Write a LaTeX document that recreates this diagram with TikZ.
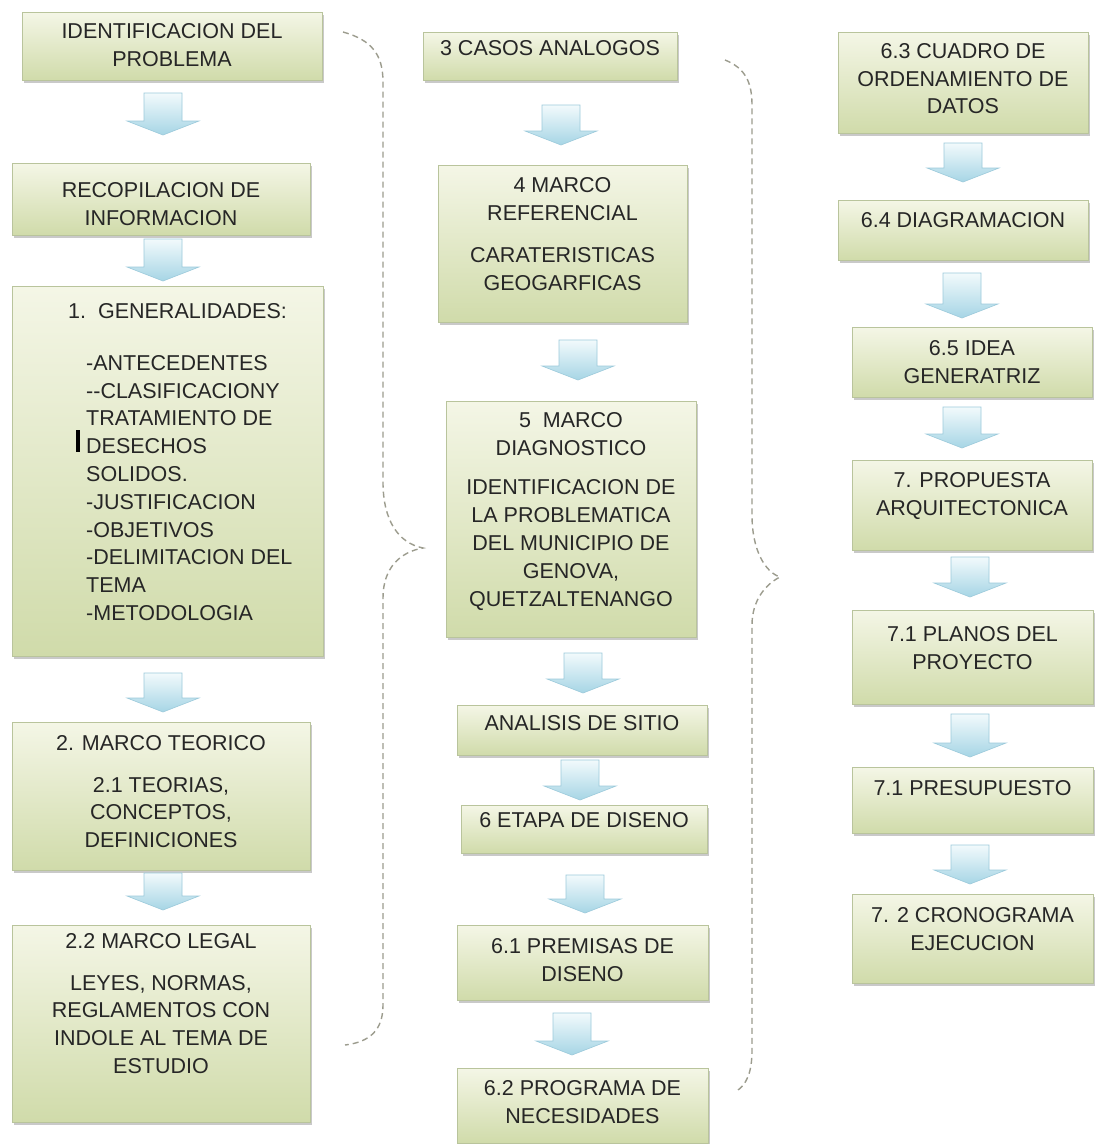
\documentclass[tikz,border=0pt]{standalone}
\usepackage{fontspec}
\setmainfont{Liberation Sans}
\usetikzlibrary{shadows,calc}
\definecolor{boxtop}{HTML}{F4F6E6}
\definecolor{boxbot}{HTML}{D0DBAA}
\definecolor{boxline}{HTML}{B9C49C}
\definecolor{arrtop}{HTML}{F2FAFC}
\definecolor{arrbot}{HTML}{A6D5E5}
\definecolor{arrline}{HTML}{9CCADB}
\definecolor{bracecol}{HTML}{9C9C8E}
\definecolor{txtcol}{HTML}{262626}
\tikzset{
  box/.style={draw=boxline, line width=0.7pt, top color=boxtop, bottom color=boxbot, inner sep=0pt,
    drop shadow={shadow xshift=1.2pt, shadow yshift=-2.2pt, opacity=0.35, fill=black!60}},
  txt/.style={inner sep=0pt, align=center, text=txtcol, font=\fontsize{21.5pt}{27.8pt}\selectfont},
  blockarrow/.style={draw=arrline, line width=0.6pt, top color=arrtop, bottom color=arrbot},
  bracket/.style={draw=bracecol, line width=1.4pt, dash pattern=on 6pt off 4pt},
}
% box: name, x1, y1, x2, y2, cap-top of first line, text
\newcommand\bx[7]{%
  \node[box, anchor=north west, minimum width={(#4)-(#2)}, minimum height={(#5)-(#3)}] (#1) at (#2,#3) {};
  \node[txt, anchor=north] (#1-t) at ({((#2)+(#4))/2},#6) {#7};
}
% block arrow: centre x, top y, bottom y
\newcommand\barrow[3]{%
  \path[blockarrow] (#1-19,#2) -- (#1+19,#2) -- (#1+19,#3-14) -- (#1+36,#3-14) -- (#1,#3)
    -- (#1-36,#3-14) -- (#1-19,#3-14) -- cycle;
}
\begin{document}
\begin{tikzpicture}[x=1pt, y=-1pt]
\useasboundingbox (0,0) rectangle (1095,1144);
\fill[white] (0,0) rectangle (1095,1144);

% ---------- left column ----------
\bx{idp}{22}{12}{322}{80}{23}{IDENTIFICACION DEL\\PROBLEMA}
\bx{rec}{12}{163}{310}{235}{182}{RECOPILACION DE\\INFORMACION}
\node[box, anchor=north west, minimum width=311, minimum height=370] (gen) at (12,286) {};
\node[txt, anchor=north west] (gen-h) at (68,303) {1.\ \ GENERALIDADES:};
\node[txt, anchor=north west, align=left] (gen-t) at (86,355)
  {-ANTECEDENTES\\-{}-CLASIFICACIONY\\TRATAMIENTO DE\\DESECHOS\\SOLIDOS.\\-JUSTIFICACION\\-OBJETIVOS\\-DELIMITACION DEL\\TEMA\\-METODOLOGIA};
\fill[black] (76,430) rectangle (80,452);
\bx{mt}{12}{722}{310}{870}{735}{2. MARCO TEORICO\\[14pt]2.1 TEORIAS,\\CONCEPTOS,\\DEFINICIONES}
\bx{ml}{12}{925}{310}{1122}{933}{2.2 MARCO LEGAL\\[14pt]LEYES, NORMAS,\\REGLAMENTOS CON\\INDOLE AL TEMA DE\\ESTUDIO}

\barrow{163}{93}{135}
\barrow{163}{239}{281}
\barrow{163}{673}{712}
\barrow{163}{873}{910}

% ---------- middle column ----------
\bx{ca}{423}{32}{677}{80}{40}{3 CASOS ANALOGOS}
\bx{mr}{438}{165}{687}{322}{177}{4 MARCO\\REFERENCIAL\\[15pt]CARATERISTICAS\\GEOGARFICAS}
\bx{md}{446}{401}{696}{637}{412}{5\ \ MARCO\\DIAGNOSTICO\\[12pt]IDENTIFICACION DE\\LA PROBLEMATICA\\DEL MUNICIPIO DE\\GENOVA,\\QUETZALTENANGO}
\bx{as}{457}{705}{707}{755}{715}{ANALISIS DE SITIO}
\bx{ed}{461}{805}{707}{853}{812}{6 ETAPA DE DISENO}
\bx{pd}{457}{925}{708}{1000}{938}{6.1 PREMISAS DE\\DISENO}
\bx{pn}{457}{1068}{708}{1143}{1080}{6.2 PROGRAMA DE\\NECESIDADES}

\barrow{561}{105}{145}
\barrow{578}{340}{380}
\barrow{583}{653}{693}
\barrow{580}{760}{800}
\barrow{585}{875}{913}
\barrow{572}{1013}{1055}

% ---------- right column ----------
\bx{co}{838}{32}{1088}{133}{43}{6.3 CUADRO DE\\ORDENAMIENTO DE\\DATOS}
\bx{dg}{838}{200}{1088}{260}{212}{6.4 DIAGRAMACION}
\bx{ig}{852}{327}{1092}{397}{340}{6.5 IDEA\\GENERATRIZ}
\bx{pa}{852}{460}{1092}{550}{472}{7. PROPUESTA\\ARQUITECTONICA}
\bx{pp}{852}{610}{1093}{704}{626}{7.1 PLANOS DEL\\PROYECTO}
\bx{pr}{852}{767}{1093}{833}{780}{7.1 PRESUPUESTO}
\bx{cr}{852}{894}{1093}{983}{907}{7. 2 CRONOGRAMA\\EJECUCION}

\barrow{963}{143}{182}
\barrow{962}{273}{318}
\barrow{962}{407}{448}
\barrow{970}{557}{597}
\barrow{970}{714}{757}
\barrow{970}{845}{884}

% ---------- dashed braces ----------
\draw[bracket] (343,32) .. controls (372,40) and (383,55) .. (383,82) -- (383,482)
  .. controls (383,520) and (398,543) .. (423,548)
  .. controls (400,552) and (383,568) .. (383,598) -- (383,1005)
  .. controls (383,1030) and (370,1042) .. (345,1045);
\draw[bracket] (725,60) .. controls (745,68) and (752,82) .. (752,105) -- (752,515)
  .. controls (752,550) and (765,572) .. (780,577)
  .. controls (766,584) and (752,600) .. (752,625) -- (752,1050)
  .. controls (752,1072) and (747,1085) .. (735,1092);
\end{tikzpicture}
\end{document}
